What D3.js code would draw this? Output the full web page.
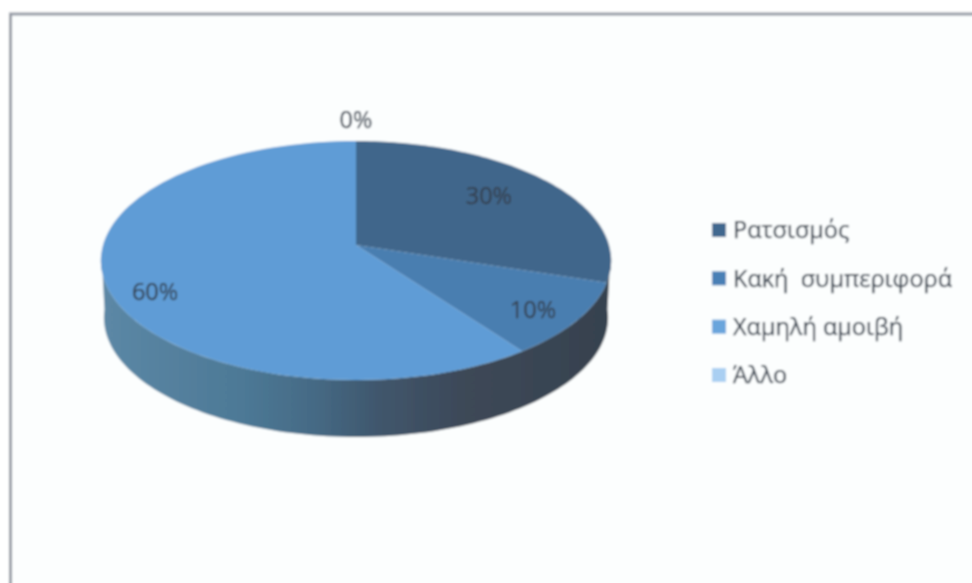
<!DOCTYPE html>
<html><head><meta charset="utf-8">
<script src="https://cdn.jsdelivr.net/npm/d3@7"></script>
<style>html,body{margin:0;padding:0;background:#fff}svg{display:block}text{font-family:"Open Sans","Noto Sans",sans-serif}</style>
</head><body><svg id="c" width="972" height="583"></svg>
<script>
const categories = ["Ρατσισμός","Κακή  συμπεριφορά","Χαμηλή αμοιβή","Άλλο"];
const values = [30,10,60,0];
const sliceColors = ["#40668b","#4a7eb0","#5f9cd6","#a6cdf0"];
const legendColors = ["#41688f","#4a80b6","#6ba5dc","#a9cff2"];
const labels = ["30%","10%","60%","0%"];
const labelRadius = [0.683,0.811,0.808,1.234];
const labelNudge = [-4,5,16,0];

const W=972,H=583, cx=356, k=253, c=-0.1297, a=85.7, b=245, depth=57;
const svg=d3.select("#c");
const defs=svg.append("defs");
defs.append("filter").attr("id","soft").attr("x","-5%").attr("y","-5%").attr("width","110%").attr("height","110%")
  .append("feGaussianBlur").attr("stdDeviation",0.85);
const grad=defs.append("linearGradient").attr("id","side").attr("gradientUnits","userSpaceOnUse")
  .attr("x1",99).attr("x2",610).attr("y1",0).attr("y2",0);
[[0,"#5c88a6"],[0.28,"#4d7996"],[0.42,"#456a85"],[0.55,"#40566c"],[0.72,"#3d4857"],[1,"#36424f"]]
  .forEach(([o,col])=>grad.append("stop").attr("offset",o).attr("stop-color",col));

// perspective projection of the unit disc onto the tilted pie's top face
const proj=(ang,r=1)=>{const X=r*Math.sin(ang),Y=-r*Math.cos(ang),d=1+c*Y;return [cx+k*X/d,(b+a*Y)/d];};
const line=d3.line();
const sample=(a0,a1,n=90)=>d3.range(n+1).map(i=>a0+(a1-a0)*i/n);

const g=svg.append("g").attr("filter","url(#soft)");
g.append("rect").attr("x",0).attr("y",0).attr("width",W).attr("height",H).attr("fill","#ffffff");
g.append("rect").attr("x",10.5).attr("y",14).attr("width",W+20).attr("height",H+20)
  .attr("fill","#fcfefe").attr("stroke","#949aa4").attr("stroke-width",3);

// side wall
const front=sample(Math.PI*0.52,Math.PI*1.48,120);
const topRim=front.map(t=>proj(t));
const botRim=front.slice().reverse().map(t=>{const p=proj(t);return [cx+(p[0]-cx)*0.988,p[1]+depth];});
g.append("path").attr("d",line(topRim.concat(botRim))+"Z").attr("fill","url(#side)");

// top face
const pie=d3.pie().sort(null).value(d=>d)(values);
g.selectAll("path.slice").data(pie).join("path").attr("class","slice")
  .attr("d",d=>{ if(d.endAngle-d.startAngle<1e-6) return null;
    return line([[cx,b]].concat(sample(d.startAngle,d.endAngle).map(t=>proj(t))))+"Z";})
  .attr("fill",(d,i)=>sliceColors[i]);

// data labels
g.selectAll("text.lab").data(pie).join("text").attr("class","lab")
  .attr("x",(d,i)=>proj((d.startAngle+d.endAngle)/2,labelRadius[i])[0])
  .attr("y",(d,i)=>proj((d.startAngle+d.endAngle)/2,labelRadius[i])[1]+labelNudge[i])
  .attr("dy","0.35em").attr("text-anchor","middle").attr("font-size",23.5).attr("fill","#36414e")
  .attr("stroke","#36414e").attr("stroke-width",0.25)
  .text((d,i)=>labels[i]);

// legend
const ly=d3.scalePoint().domain(categories).range([230,375]);
const leg=g.selectAll("g.leg").data(categories).join("g").attr("class","leg")
  .attr("transform",d=>`translate(712,${ly(d)})`);
leg.append("rect").attr("x",0).attr("y",-7).attr("width",14).attr("height",14).attr("fill",(d,i)=>legendColors[i]);
leg.append("text").attr("x",21).attr("dy","0.35em").attr("font-size",23.5).attr("fill","#36414e")
  .attr("stroke","#36414e").attr("stroke-width",0.25)
  .style("white-space","pre").text(d=>d);
</script></body></html>
